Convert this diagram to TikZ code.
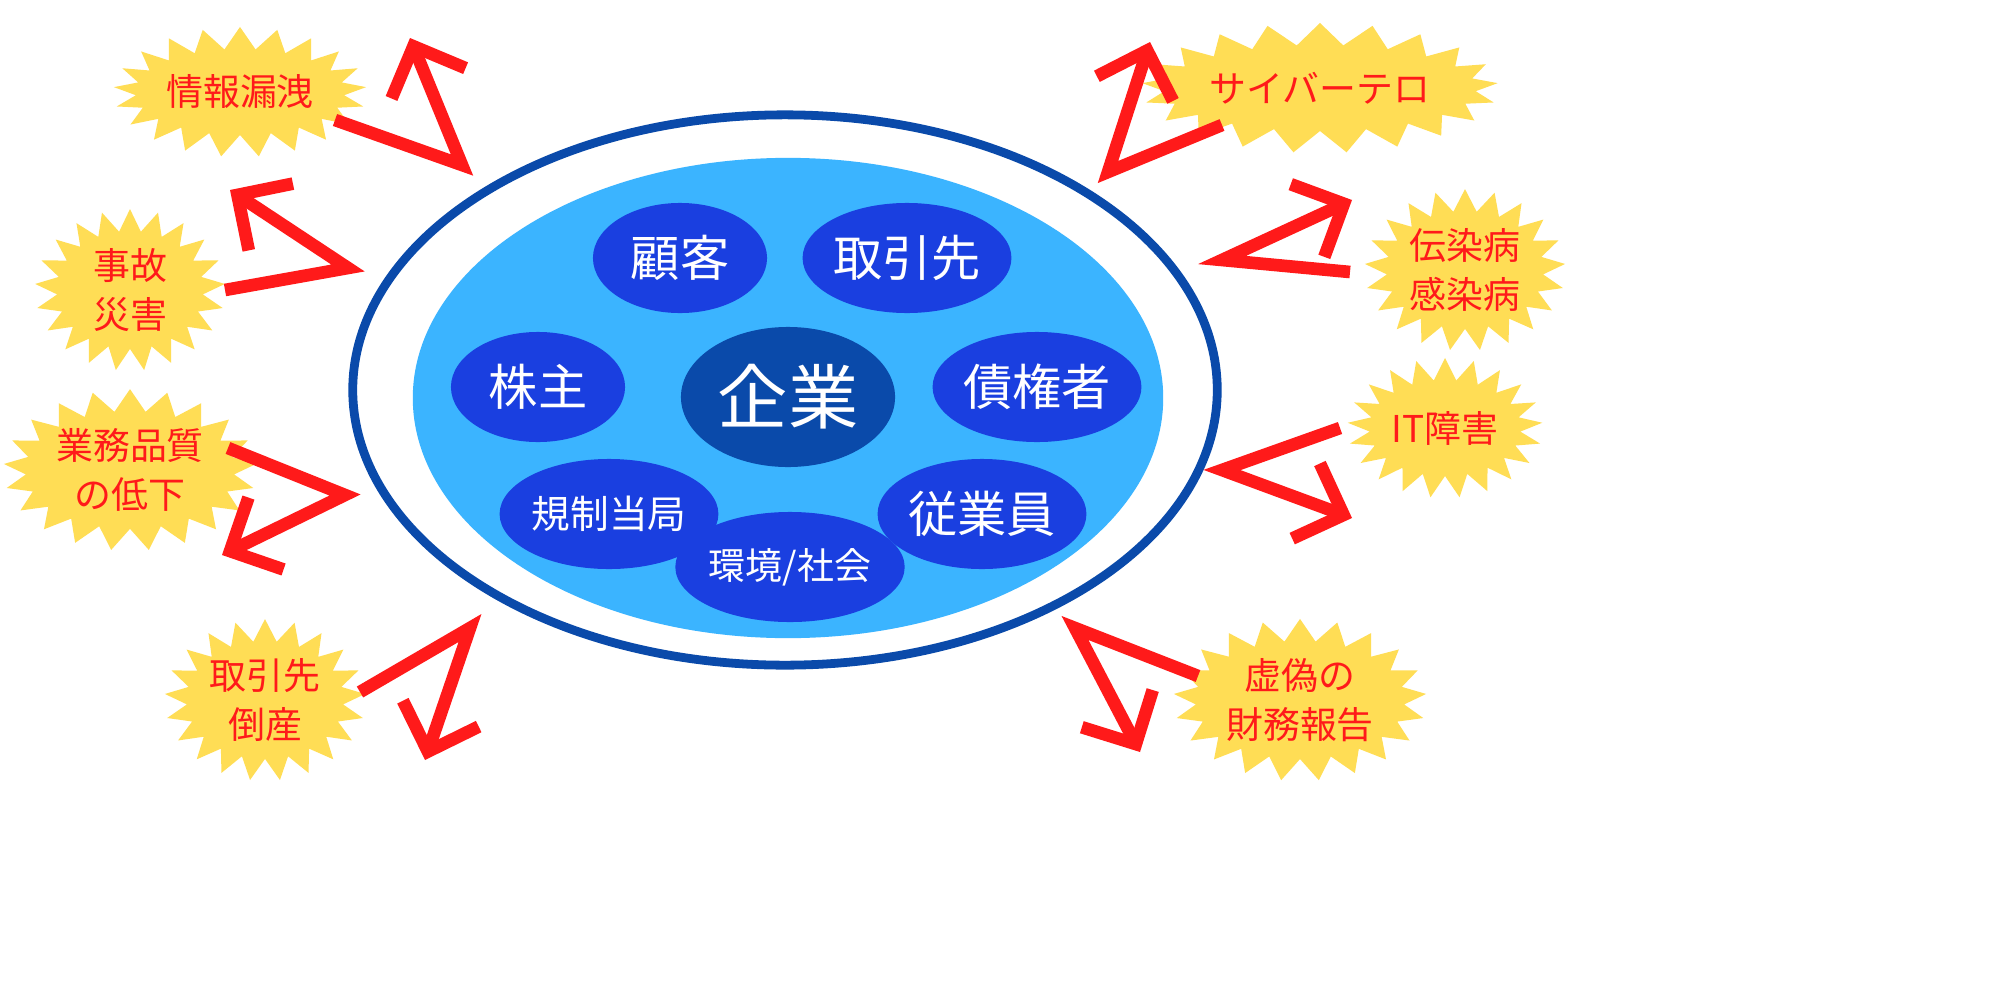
\documentclass[tikz,border=0pt]{standalone}
\usepackage{fontspec}
\newfontfamily\cjk{Noto Sans CJK JP}
\usetikzlibrary{shapes.symbols,shapes.geometric,arrows.meta}
\definecolor{lb}{HTML}{3BB4FF}
\definecolor{ob}{HTML}{1A3FE0}
\definecolor{db}{HTML}{0A4AAA}
\definecolor{rim}{HTML}{0A4AAA}
\definecolor{yel}{HTML}{FFDD55}
\definecolor{rd}{HTML}{FF1A1A}
\tikzset{
 oval/.style={ellipse,fill=ob,text=white,font=\cjk\fontsize{14}{16}\selectfont,minimum width=1.74cm,minimum height=1.1cm,inner sep=0pt},
 burst/.style={starburst,starburst points=21,starburst point height=0.22cm,random starburst=0,fill=yel,text=rd,font=\cjk\fontsize{10.5}{14}\selectfont,align=center,inner sep=0pt},
 rarrow/.style={rd,line width=3.6pt,line join=miter,-{Straight Barb[length=4mm,width=8mm]}}
}
\begin{document}
\begin{tikzpicture}[x=0.01cm,y=-0.01cm]
\fill[white] (0,0) rectangle (2000,1000);
\node[ellipse,draw=rim,line width=2.5pt,fill=white,minimum width=8.64cm,minimum height=5.5cm] (outer) at (785,390) {};
\node[ellipse,fill=lb,minimum width=7.5cm,minimum height=4.8cm] (inner) at (788,398) {};
\node[oval] (c1) at (680,258) {顧客};
\node[oval] (c2) at (907,258) {取引先};
\node[oval] (c3) at (538,387) {株主};
\node[oval,fill=db,minimum width=2.14cm,minimum height=1.4cm,font=\cjk\fontsize{20}{22}\selectfont] (kig) at (788,397) {企業};
\node[oval] (c4) at (1037,387) {債権者};
\node[oval,font=\cjk\fontsize{11}{13}\selectfont] (c5) at (609,514) {規制当局};
\node[oval] (c6) at (982,514) {従業員};
\node[oval,font=\cjk\fontsize{10.5}{13}\selectfont] (c7) at (790,567) {環境/社会};

\node[burst,minimum width=1.8cm,minimum height=1.3cm] (b1) at (240,92) {情報漏洩};
\node[burst,minimum width=1.9cm,minimum height=1.6cm] (b2) at (130,290) {事故\\災害};
\node[burst,minimum width=1.9cm,minimum height=1.6cm] (b3) at (130,470) {業務品質\\の低下};
\node[burst,minimum width=1.9cm,minimum height=1.5cm] (b4) at (265,700) {取引先\\倒産};
\node[burst,minimum width=1.9cm,minimum height=1.3cm] (b5) at (1320,88) {サイバーテロ};
\node[burst,minimum width=1.9cm,minimum height=1.6cm] (b6) at (1465,270) {伝染病\\感染病};
\node[burst,minimum width=1.9cm,minimum height=1.4cm] (b7) at (1445,428) {IT障害};
\node[burst,minimum width=1.9cm,minimum height=1.5cm] (b8) at (1300,700) {虚偽の\\財務報告};

\coordinate (s1) at (335,120); \coordinate (m1) at (462,165); \coordinate (e1) at (410,38);
\coordinate (s2) at (225,290); \coordinate (m2) at (348,268); \coordinate (e2) at (230,190);
\coordinate (s3) at (228,448); \coordinate (m3) at (345,495); \coordinate (e3) at (222,555);
\coordinate (s4) at (360,692); \coordinate (m4) at (470,628); \coordinate (e4) at (425,760);
\coordinate (s5) at (1222,125); \coordinate (m5) at (1108,172); \coordinate (e5) at (1150,42);
\coordinate (s6) at (1350,272); \coordinate (m6) at (1222,260); \coordinate (e6) at (1352,200);
\coordinate (s7) at (1340,428); \coordinate (m7) at (1222,470); \coordinate (e7) at (1352,518);
\coordinate (s8) at (1198,676); \coordinate (m8) at (1075,628); \coordinate (e8) at (1140,752);
\foreach \i in {1,...,8}{\draw[rarrow] (s\i) -- (m\i) -- (e\i);}
\pgfresetboundingbox
\useasboundingbox (0,0) rectangle (2000,1000);
\end{tikzpicture}
\end{document}
